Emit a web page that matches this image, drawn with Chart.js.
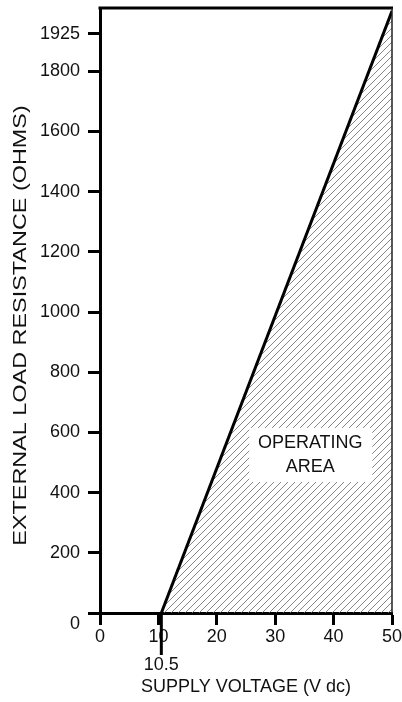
<!DOCTYPE html>
<html>
<head>
<meta charset="utf-8">
<script src="https://cdn.jsdelivr.net/npm/chart.js@4"></script>
<style>
  html, body { margin: 0; padding: 0; background: #fff; }
  #wrap { width: 402px; height: 702px; }
</style>
</head>
<body>
<div id="wrap"><canvas id="loadChart" width="402" height="702"></canvas></div>
<script>
// data
const voltage = [10.5, 50];          // V dc
const resistance = [0, 2000];        // ohms
const xTicks = [0, 10, 20, 30, 40, 50];
const yTicks = [0, 200, 400, 600, 800, 1000, 1200, 1400, 1600, 1800, 1925];
const minVoltage = 10.5;

const FONT = "'Liberation Sans', Arial, Helvetica, sans-serif";

// diagonal hatch for the operating area
function makeHatch() {
    const c = document.createElement('canvas');
    const s = 7;
    c.width = s; c.height = s;
    const g = c.getContext('2d');
    g.strokeStyle = '#6a6a6a';
    g.lineWidth = 0.8;
    g.beginPath();
    g.moveTo(-1, s + 1); g.lineTo(s + 1, -1);
    g.moveTo(-1, 1); g.lineTo(1, -1);
    g.moveTo(s - 1, s + 1); g.lineTo(s + 1, s - 1);
    g.stroke();
    return g.createPattern(c, 'repeat');
}

const framePlugin = {
    id: 'frame',
    afterDraw(chart) {
        const { ctx, chartArea: a, scales } = chart;
        const x = scales.x, y = scales.y;
        ctx.save();
        // top border
        ctx.strokeStyle = '#000';
        ctx.lineWidth = 3;
        ctx.beginPath();
        ctx.moveTo(a.left - 1.5, a.top);
        ctx.lineTo(a.right + 1, a.top);
        ctx.stroke();
        // right border (thin)
        ctx.lineWidth = 1.5;
        ctx.strokeStyle = '#222';
        ctx.beginPath();
        ctx.moveTo(a.right, a.top);
        ctx.lineTo(a.right, a.bottom);
        ctx.stroke();

        // long tick + label at the minimum supply voltage
        const px = x.getPixelForValue(minVoltage);
        ctx.strokeStyle = '#000';
        ctx.lineWidth = 3;
        ctx.beginPath();
        ctx.moveTo(px, a.bottom);
        ctx.lineTo(px, a.bottom + 42);
        ctx.stroke();
        ctx.fillStyle = '#111';
        ctx.font = '18px ' + FONT;
        ctx.textAlign = 'center';
        ctx.textBaseline = 'middle';
        ctx.fillText(String(minVoltage), px, a.bottom + 52);

        // operating area label
        const cx = x.getPixelForValue(36), cy = y.getPixelForValue(525);
        ctx.fillStyle = '#fff';
        ctx.fillRect(cx - 61, cy - 27, 123, 54);
        ctx.fillStyle = '#111';
        ctx.fillText('OPERATING', cx, cy - 12);
        ctx.fillText('AREA', cx, cy + 12);

        // y title, stretched like the reference lettering
        ctx.translate(21, (a.top + a.bottom) / 2 + 15);
        ctx.rotate(-Math.PI / 2);
        ctx.scale(1.3, 1);
        ctx.font = '18px ' + FONT;
        ctx.fillText('EXTERNAL LOAD RESISTANCE (OHMS)', 0, 0);
        ctx.restore();
    }
};

const tickFont = { family: FONT, size: 18 };

new Chart(document.getElementById('loadChart'), {
    type: 'line',
    data: {
        datasets: [{
            data: voltage.map((v, i) => ({ x: v, y: resistance[i] })),
            borderColor: '#000',
            borderWidth: 3,
            pointRadius: 0,
            fill: 'origin',
            backgroundColor: makeHatch(),
            tension: 0
        }]
    },
    options: {
        responsive: false,
        animation: false,
        layout: { padding: { top: 8, right: 10, left: 0, bottom: 0 } },
        plugins: { legend: { display: false }, tooltip: { enabled: false } },
        scales: {
            x: {
                type: 'linear',
                min: 0, max: 50,
                afterBuildTicks: s => { s.ticks = xTicks.map(v => ({ value: v })); },
                afterFit: s => { s.height = 89; s.paddingLeft = 0; s.paddingRight = 0; },
                grid: { drawOnChartArea: false, drawTicks: true, tickLength: 12, tickWidth: 3, tickColor: '#000' },
                border: { display: true, width: 3, color: '#000' },
                ticks: { color: '#111', font: tickFont, padding: 1, maxRotation: 0, callback: v => String(v) },
                title: {
                    display: true, text: 'SUPPLY VOLTAGE (V dc)', color: '#111',
                    font: { family: FONT, size: 18 }, padding: { top: 0, bottom: 4 }
                }
            },
            y: {
                type: 'linear',
                min: 0, max: 2010,
                afterBuildTicks: s => { s.ticks = yTicks.map(v => ({ value: v })); },
                afterFit: s => { s.width = 100; s.paddingTop = 0; s.paddingBottom = 0; },
                grid: { drawOnChartArea: false, drawTicks: true, tickLength: 12, tickWidth: 3, tickColor: '#000' },
                border: { display: true, width: 3, color: '#000' },
                // the 0 label sits a little below its tick in the reference
                ticks: { color: '#111', font: tickFont, padding: 8, callback: v => (v === 0 ? ['', '0'] : String(v)) }
            }
        }
    },
    plugins: [framePlugin]
});
</script>
</body>
</html>
